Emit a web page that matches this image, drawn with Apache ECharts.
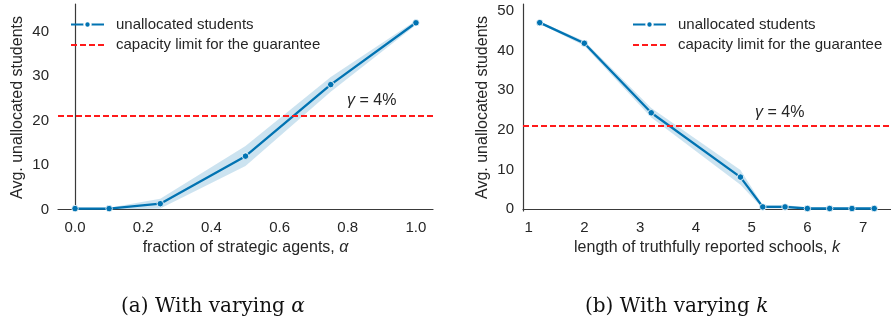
<!DOCTYPE html>
<html>
<head>
<meta charset="utf-8">
<script src="https://cdn.jsdelivr.net/npm/echarts@6/dist/echarts.min.js"></script>
<style>
  html, body { margin: 0; padding: 0; background: #fff; }
  #chart { width: 891px; height: 324px; }
</style>
</head>
<body>
<div id="chart"></div>
<script>
// (a) varying alpha
const alphaX = [0, 0.1, 0.25, 0.5, 0.75, 1.0];
const alphaMean = [0.2, 0.2, 1.3, 12.0, 28.1, 42.0];
const alphaLow = [0.0, 0.0, 0.2, 9.8, 26.5, 41.5];
const alphaHigh = [0.4, 0.4, 2.4, 14.3, 29.8, 42.5];
const alphaCapacity = 21.2;

// (b) varying k
const kX = [1.2, 2, 3.2, 4.8, 5.2, 5.6, 6, 6.4, 6.8, 7.2];
const kMean = [47.0, 41.8, 24.3, 8.1, 0.6, 0.6, 0.2, 0.2, 0.2, 0.2];
const kLow = [46.7, 41.2, 23.1, 6.2, 0.2, 0.2, 0.0, 0.0, 0.0, 0.0];
const kHigh = [47.3, 42.4, 25.5, 9.9, 1.1, 1.1, 0.4, 0.4, 0.4, 0.4];
const kCapacity = 21.0;

const alphaTicks = [0, 0.2, 0.4, 0.6, 0.8, 1.0];
const kTicks = [1, 2, 3, 4, 5, 6, 7];
const alphaYTicks = [0, 10, 20, 30, 40];
const kYTicks = [0, 10, 20, 30, 40, 50];

const BLUE = '#0173b2';
const RED = '#ff1a1a';
const FONT = '"Liberation Sans", Arial, sans-serif';
const LINE_NAME = 'unallocated students';
const CAP_NAME = 'capacity limit for the guarantee';

const pairs = (xs, ys) => xs.map((x, i) => [x, ys[i]]);

const chart = echarts.init(document.getElementById('chart'));

const xAxisBase = (gridIndex, min, max, ticks, name) => ({
  type: 'value',
  gridIndex: gridIndex,
  min: min,
  max: max,
  name: name,
  nameLocation: 'middle',
  nameGap: 29,
  nameTextStyle: { fontFamily: FONT, fontSize: 16, color: '#262626', rich: { i: { fontFamily: FONT, fontSize: 16, fontStyle: 'italic', color: '#262626' } } },
  axisLine: { show: true, lineStyle: { color: '#3a3a3a', width: 1.2 } },
  axisTick: { show: false },
  splitLine: { show: false },
  axisLabel: {
    customValues: ticks,
    margin: 9,
    fontFamily: FONT,
    fontSize: 15,
    color: '#262626',
    formatter: v => gridIndex === 0 ? v.toFixed(1) : String(v)
  }
});

const yAxisBase = (gridIndex, min, max, ticks) => ({
  type: 'value',
  gridIndex: gridIndex,
  min: min,
  max: max,
  name: 'Avg. unallocated students',
  nameLocation: 'middle',
  nameGap: 32,
  nameTextStyle: { fontFamily: FONT, fontSize: 16, color: '#262626' },
  axisLine: { show: true, lineStyle: { color: '#3a3a3a', width: 1.2 } },
  axisTick: { show: false },
  splitLine: { show: false },
  axisLabel: { customValues: ticks, margin: 9, fontFamily: FONT, fontSize: 15, color: '#262626' }
});

// confidence band drawn as one polygon through the axis scales
const bandSeries = (idx, xs, lo, hi) => ({
  type: 'custom', xAxisIndex: idx, yAxisIndex: idx,
  data: xs.map((x, i) => [x, lo[i], hi[i]]),
  encode: { x: 0, y: [1, 2] },
  silent: true,
  z: 1,
  renderItem: (params, api) => {
    if (params.dataIndex !== 0) return null;
    const pts = [];
    for (let i = 0; i < xs.length; i++) pts.push(api.coord([xs[i], hi[i]]));
    for (let i = xs.length - 1; i >= 0; i--) pts.push(api.coord([xs[i], lo[i]]));
    return {
      type: 'polygon',
      shape: { points: pts },
      style: { fill: BLUE, opacity: 0.2 }
    };
  }
});

const meanSeries = (idx, xs, ys) => ({
  name: LINE_NAME, type: 'line', xAxisIndex: idx, yAxisIndex: idx,
  data: pairs(xs, ys),
  symbol: 'circle', symbolSize: 6.5,
  lineStyle: { color: BLUE, width: 2.3 },
  itemStyle: { color: BLUE, borderColor: '#fff', borderWidth: 0.8 },
  z: 3
});

const capSeries = (idx, value) => ({
  name: CAP_NAME, type: 'line', xAxisIndex: idx, yAxisIndex: idx,
  data: [], symbol: 'none',
  lineStyle: { color: RED, width: 1.8, type: [6, 3] },
  itemStyle: { color: RED },
  markLine: {
    silent: true, symbol: ['none', 'none'], label: { show: false },
    lineStyle: { color: RED, width: 1.8, type: [6, 3] },
    data: [{ yAxis: value }]
  },
  z: 2
});

const legendBase = (left) => ({
  orient: 'vertical',
  left: left,
  top: 17,
  padding: 0,
  itemWidth: 33,
  itemHeight: 8,
  itemGap: 5.5,
  data: [
    { name: LINE_NAME },
    { name: CAP_NAME, itemStyle: { opacity: 0 } }
  ],
  textStyle: { fontFamily: FONT, fontSize: 15, color: '#262626', padding: [0, 0, 0, 7] },
  selectedMode: false
});

const option = {
  animation: false,
  backgroundColor: '#fff',
  grid: [
    { left: 58, top: 4, width: 375, height: 207 },
    { left: 523, top: 4, width: 375, height: 207 }
  ],
  xAxis: [
    xAxisBase(0, -0.05, 1.05, alphaTicks, 'fraction of strategic agents, {i|α}'),
    xAxisBase(1, 0.9, 7.5, kTicks, 'length of truthfully reported schools, {i|k}')
  ],
  yAxis: [
    yAxisBase(0, -0.34, 46.23, alphaYTicks),
    yAxisBase(1, -0.43, 51.69, kYTicks)
  ],
  legend: [legendBase(70), legendBase(632)],
  series: [
    bandSeries(0, alphaX, alphaLow, alphaHigh),
    meanSeries(0, alphaX, alphaMean),
    capSeries(0, alphaCapacity),
    bandSeries(1, kX, kLow, kHigh),
    meanSeries(1, kX, kMean),
    capSeries(1, kCapacity)
  ],
  graphic: [
    {
      type: 'text', left: 347, top: 93,
      style: {
        text: '{i|γ} = 4%', font: '16px ' + FONT, fill: '#262626',
        rich: { i: { fontStyle: 'italic', fontFamily: FONT, fontSize: 16, fill: '#262626' } }
      }
    },
    {
      type: 'text', left: 755, top: 105,
      style: {
        text: '{i|γ} = 4%', font: '16px ' + FONT, fill: '#262626',
        rich: { i: { fontStyle: 'italic', fontFamily: FONT, fontSize: 16, fill: '#262626' } }
      }
    },
    {
      type: 'text', left: 121, top: 297,
      style: {
        text: '(a) With varying {i|α}', font: '20px "DejaVu Serif", serif', fill: '#111',
        rich: { i: { fontStyle: 'italic', fontFamily: '"DejaVu Serif", serif', fontSize: 20, fill: '#111' } }
      }
    },
    {
      type: 'text', left: 585, top: 297,
      style: {
        text: '(b) With varying {i|k}', font: '20px "DejaVu Serif", serif', fill: '#111',
        rich: { i: { fontStyle: 'italic', fontFamily: '"DejaVu Serif", serif', fontSize: 20, fill: '#111' } }
      }
    }
  ]
};

chart.setOption(option);
</script>
</body>
</html>
